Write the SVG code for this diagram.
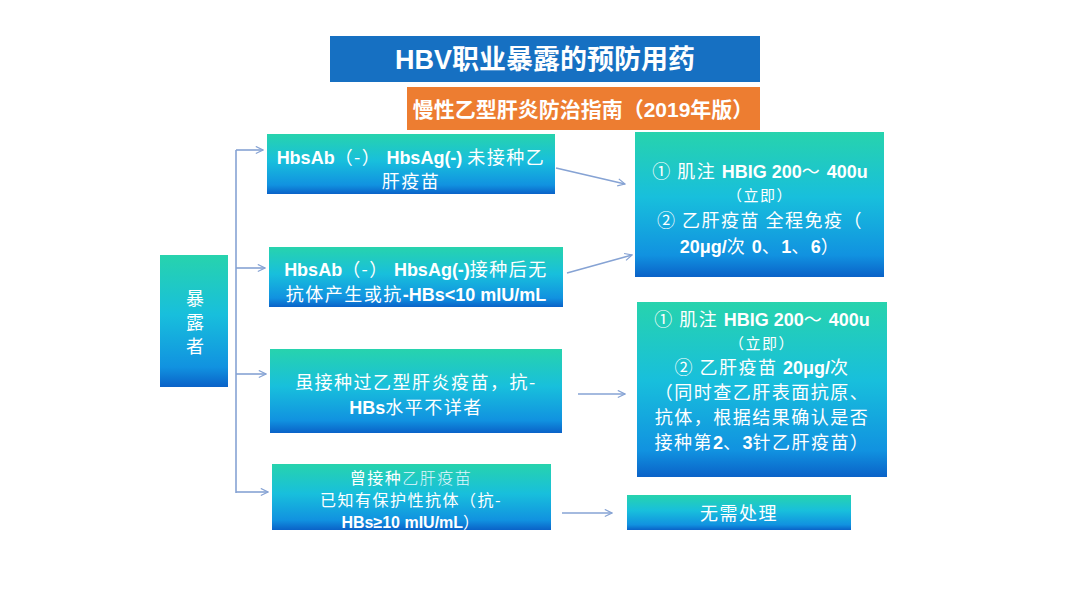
<svg xmlns="http://www.w3.org/2000/svg" width="1080" height="608" viewBox="0 0 1080 608">
<defs>
<linearGradient id="g" x1="0" y1="0" x2="0" y2="1">
<stop offset="0" stop-color="#27d3ad"/>
<stop offset="0.45" stop-color="#18bfdc"/>
<stop offset="0.85" stop-color="#1192e0"/>
<stop offset="1" stop-color="#0a62c8"/>
</linearGradient>
<marker id="ah" viewBox="0 0 10 10" refX="9" refY="5" markerWidth="9" markerHeight="9" markerUnits="userSpaceOnUse" orient="auto">
<path d="M1,1 L9,5 L1,9" fill="none" stroke="#86a3d4" stroke-width="1.3"/>
</marker>
<style>
.box{fill:url(#g);}
.t{font-family:"Liberation Sans","Noto Sans CJK SC",sans-serif;fill:#ffffff;font-size:18px;text-anchor:middle;}
.b{font-weight:bold;}
.c{font-family:"Noto Sans CJK SC",sans-serif;letter-spacing:1.5px;}
.ln{stroke:#86a3d4;stroke-width:1.6;fill:none;}
</style>
</defs>
<rect width="1080" height="608" fill="#ffffff"/>
<g id="title">
<rect x="330" y="36" width="430" height="46" fill="#1670c2"/>
<text x="545" y="69" class="t b" style="font-size:27px">HBV<tspan font-family="Noto Sans CJK SC, sans-serif">职业暴露的预防用药</tspan></text>
</g>
<g id="subtitle">
<rect x="407" y="87" width="353" height="43" fill="#ed7d31"/>
<text x="583" y="117" class="t b" style="font-size:21px"><tspan font-family="Noto Sans CJK SC, sans-serif">慢性乙型肝炎防治指南（</tspan>2019<tspan font-family="Noto Sans CJK SC, sans-serif">年版）</tspan></text>
</g>
<g id="exposed">
<rect x="160" y="255" width="68" height="132" class="box"/>
<text x="195" y="305" class="t" style="font-size:18px;font-family:'Noto Sans CJK SC',sans-serif">暴</text>
<text x="195" y="329" class="t" style="font-size:18px;font-family:'Noto Sans CJK SC',sans-serif">露</text>
<text x="195" y="353" class="t" style="font-size:18px;font-family:'Noto Sans CJK SC',sans-serif">者</text>
</g>
<g id="case1">
<rect x="267" y="134" width="288" height="60" class="box"/>
<text x="411" y="164" class="t"><tspan class="b">HbsAb</tspan><tspan class="c">（-）</tspan><tspan class="b"> HbsAg(-) </tspan><tspan class="c">未接种乙</tspan></text>
<text x="411" y="188" class="t"><tspan class="c">肝疫苗</tspan></text>
</g>
<g id="case2">
<rect x="269" y="247" width="294" height="60" class="box"/>
<text x="416" y="276" class="t"><tspan class="b">HbsAb</tspan><tspan class="c">（-）</tspan><tspan class="b"> HbsAg(-)</tspan><tspan class="c">接种后无</tspan></text>
<text x="416" y="301" class="t"><tspan class="c">抗体产生或抗</tspan><tspan class="b">-HBs&lt;10 mIU/mL</tspan></text>
</g>
<g id="case3">
<rect x="270" y="349" width="292" height="84" class="box"/>
<text x="416" y="389" class="t"><tspan class="c">虽接种过乙型肝炎疫苗，抗-</tspan></text>
<text x="416" y="414" class="t"><tspan class="b">HBs</tspan><tspan class="c">水平不详者</tspan></text>
</g>
<g id="case4">
<rect x="272" y="464" width="279" height="66" class="box"/>
<text x="411" y="484" class="t" style="font-size:16px"><tspan class="c">曾接种</tspan><tspan class="c" fill="#e3f6ff" style="font-weight:300">乙肝疫苗</tspan></text>
<text x="411" y="506" class="t" style="font-size:16px"><tspan class="c">已知有保护性抗体（抗-</tspan></text>
<text x="411" y="528" class="t" style="font-size:16px"><tspan class="b">HBs≥10 mIU/mL</tspan><tspan class="c">）</tspan></text>
</g>
<g id="action1">
<rect x="635" y="132" width="249" height="145" class="box"/>
<text x="760" y="178" class="t"><tspan class="c">① 肌注 </tspan><tspan class="b">HBIG 200</tspan><tspan class="c">～ </tspan><tspan class="b">400u</tspan></text>
<text x="760" y="201" class="t" style="font-size:15px"><tspan class="c">（立即）</tspan></text>
<text x="760" y="227" class="t"><tspan class="c">② 乙肝疫苗 全程免疫（</tspan></text>
<text x="760" y="253" class="t"><tspan class="b">20μg/</tspan><tspan class="c">次 </tspan><tspan class="b">0</tspan><tspan class="c">、</tspan><tspan class="b">1</tspan><tspan class="c">、</tspan><tspan class="b">6</tspan><tspan class="c">）</tspan></text>
</g>
<g id="action2">
<rect x="637" y="302" width="250" height="175" class="box"/>
<text x="762" y="326" class="t"><tspan class="c">① 肌注 </tspan><tspan class="b">HBIG 200</tspan><tspan class="c">～ </tspan><tspan class="b">400u</tspan></text>
<text x="762" y="349" class="t" style="font-size:15px"><tspan class="c">（立即）</tspan></text>
<text x="762" y="374" class="t"><tspan class="c">② 乙肝疫苗 </tspan><tspan class="b">20μg/</tspan><tspan class="c">次</tspan></text>
<text x="762" y="399" class="t"><tspan class="c">（同时查乙肝表面抗原、</tspan></text>
<text x="762" y="424" class="t"><tspan class="c">抗体，根据结果确认是否</tspan></text>
<text x="762" y="449" class="t"><tspan class="c">接种第</tspan><tspan class="b">2</tspan><tspan class="c">、</tspan><tspan class="b">3</tspan><tspan class="c">针乙肝疫苗）</tspan></text>
</g>
<g id="action3">
<rect x="627" y="495" width="224" height="35" class="box"/>
<text x="739" y="520" class="t"><tspan class="c">无需处理</tspan></text>
</g>
<g id="connectors">
<path class="ln" d="M236,150 L236,493"/>
<path class="ln" d="M236,150 L263,150" marker-end="url(#ah)"/>
<path class="ln" d="M236,268 L265,268" marker-end="url(#ah)"/>
<path class="ln" d="M236,374 L266,374" marker-end="url(#ah)"/>
<path class="ln" d="M236,492 L268,492" marker-end="url(#ah)"/>
<path class="ln" d="M556,168 L625,184" marker-end="url(#ah)"/>
<path class="ln" d="M567,273 L632,255" marker-end="url(#ah)"/>
<path class="ln" d="M578,394 L625,394" marker-end="url(#ah)"/>
<path class="ln" d="M562,513 L612,513" marker-end="url(#ah)"/>
</g>
</svg>
